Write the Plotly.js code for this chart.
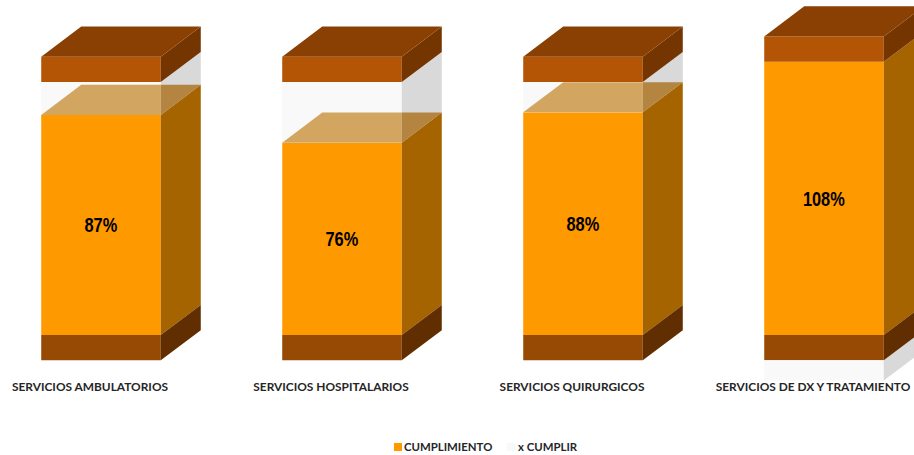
<!DOCTYPE html>
<html><head><meta charset="utf-8">
<script src="https://cdn.plot.ly/plotly-3.0.1.min.js"></script>
<style>html,body{margin:0;padding:0;background:#fff}#c{width:914px;height:455px}</style>
</head><body><div id="c"></div>
<script>
const categories = ["SERVICIOS AMBULATORIOS","SERVICIOS HOSPITALARIOS","SERVICIOS QUIRURGICOS","SERVICIOS DE DX Y TRATAMIENTO"];
const cumplimiento = [87,76,88,108];
const xCumplir = [13,24,12,-8];
const capSeries = [10,10,10,10];
const baseSeries = [-10,-10,-10,-10];

const positions = categories.map((_, i) => i);
const W = 0.496, DX = 0.166, DY = 11.9, HALF = W / 2;
const labelFont = "Lato, 'Open Sans', sans-serif";

function polys(fn) {
  const xs = [], ys = [];
  positions.forEach(i => {
    const pts = fn(i);
    if (!pts) return;
    pts.forEach(p => { xs.push(p[0]); ys.push(p[1]); });
    xs.push(pts[0][0]); ys.push(pts[0][1]);
    xs.push(null); ys.push(null);
  });
  return {xs, ys};
}
function face(fn, color) {
  const p = polys(fn);
  return {type:'scatter', mode:'lines', x:p.xs, y:p.ys, fill:'toself', fillcolor:color,
          line:{width:0}, showlegend:false, hoverinfo:'skip'};
}
const side = (i, lo, hi) => {
  const r = i + HALF;
  return [[r,lo],[r+DX,lo+DY],[r+DX,hi+DY],[r,hi]];
};
const stackTop = i => cumplimiento[i] + Math.max(xCumplir[i],0);
const bottom = i => baseSeries[i] + Math.min(xCumplir[i],0);

const traces = [
  {type:'bar', name:'CUMPLIMIENTO', x:positions, y:cumplimiento, width:W,
   marker:{color:'#ff9900', line:{width:0}},
   text:cumplimiento.map(v => v + '%'), textposition:'inside', insidetextanchor:'middle', textangle:0,
   constraintext:'none',
   textfont:{family:"'Liberation Sans',sans-serif", size:21, color:'#000', weight:700},
   hoverinfo:'skip'},
  {type:'bar', name:'x CUMPLIR', x:positions, y:xCumplir.map(v => Math.max(v,0)), base:cumplimiento, width:W,
   marker:{color:'#f9f9f9', line:{width:0}}, hoverinfo:'skip'},
  {type:'bar', x:positions, y:capSeries, width:W, showlegend:false, base:positions.map(stackTop),
   marker:{color:'#b45505', line:{width:0}}, hoverinfo:'skip'},
  {type:'bar', x:positions, y:baseSeries, width:W, showlegend:false, base:0,
   marker:{color:'#974a03', line:{width:0}}, hoverinfo:'skip'},
  {type:'bar', x:positions, y:xCumplir.map(v => v < 0 ? v : 0), base:baseSeries, width:W, showlegend:false,
   marker:{color:'#f9f9f9', line:{width:0}}, hoverinfo:'skip'},
  face(i => xCumplir[i] >= 0 ? side(i, cumplimiento[i], stackTop(i))
                             : side(i, bottom(i), baseSeries[i]), '#d9d9d9'),
  face(i => side(i, 0, cumplimiento[i]), '#a56400'),
  face(i => side(i, baseSeries[i], 0), '#602e00'),
  face(i => {
    if (xCumplir[i] <= 0) return null;
    const v = cumplimiento[i], l = i - HALF, r = i + HALF;
    return [[l,v],[r,v],[r,v+DY],[l+DX,v+DY]];
  }, '#d2a661'),
  face(i => {
    if (xCumplir[i] <= 0) return null;
    const v = cumplimiento[i], r = i + HALF;
    return [[r,v],[r+DX,v+DY],[r,v+DY]];
  }, '#b38540'),
  face(i => side(i, stackTop(i), stackTop(i) + capSeries[i]), '#753500'),
  face(i => {
    const v = stackTop(i) + capSeries[i], l = i - HALF, r = i + HALF;
    return [[l,v],[r,v],[r+DX,v+DY],[l+DX,v+DY]];
  }, '#8a4003')
];

const layout = {
  width:914, height:455, paper_bgcolor:'#fff', plot_bgcolor:'#fff',
  margin:{l:0,r:0,t:0,b:74}, barmode:'overlay', showlegend:true,
  xaxis:{range:[-101/241, 813/241], tickmode:'array',
    tickvals:positions.map(i => i - 11/241), ticktext:categories,
    showgrid:false, zeroline:false, showline:false, ticks:'', tickangle:0,
    ticklabelstandoff:-3,
    tickfont:{family:labelFont, size:11.9, color:'#262626', weight:700}},
  yaxis:{range:[-18.18,132.41], visible:false, showgrid:false, zeroline:false},
  legend:{orientation:'h', x:378/914, xanchor:'left', y:0.0176, yanchor:'middle', yref:'container',
    entrywidth:68, entrywidthmode:'pixels',
    font:{family:labelFont, size:11.4, color:'#262626', weight:700}, bgcolor:'rgba(0,0,0,0)'}
};
Plotly.newPlot('c', traces, layout, {displayModeBar:false, staticPlot:true}).then(gd => {
  gd.querySelectorAll('.bartext text, text.bartext').forEach(t => {
    t.setAttribute('textLength', (t.getComputedTextLength() * 0.78).toFixed(1));
    t.setAttribute('lengthAdjust', 'spacingAndGlyphs');
  });
  gd.querySelectorAll('.legend .traces').forEach((g, k) => {
    const s = g.querySelector('.legendsymbols path');
    if (s) s.setAttribute('d', 'M4,4H-4V-4H4Z');
    const t = g.querySelector('text.legendtext');
    if (t) t.setAttribute('x', k === 0 ? 26 : 27);
  });
});
</script></body></html>
